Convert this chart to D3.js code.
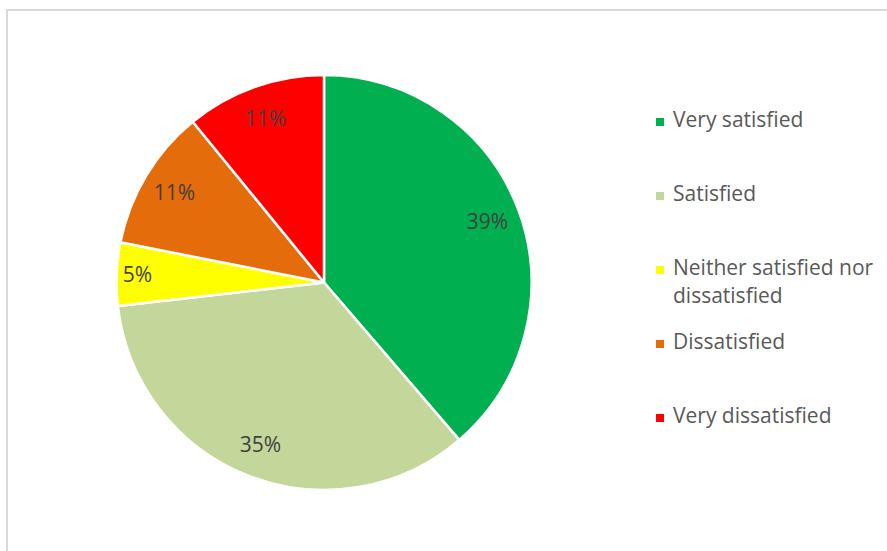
<!DOCTYPE html>
<html>
<head>
<meta charset="utf-8">
<script src="https://cdn.jsdelivr.net/npm/d3@7"></script>
<style>
  body { margin: 0; background: #fff; }
  text { font-family: "Open Sans", "Liberation Sans", sans-serif; }
</style>
</head>
<body>
<div id="chart"></div>
<script>
// data
var categories = ["Very satisfied", "Satisfied", "Neither satisfied nor dissatisfied", "Dissatisfied", "Very dissatisfied"];
var values = [38.7, 34.5, 4.9, 11.0, 10.9];
var labels = ["39%", "35%", "5%", "11%", "11%"];
var legendLines = [["Very satisfied"], ["Satisfied"], ["Neither satisfied nor", "dissatisfied"], ["Dissatisfied"], ["Very dissatisfied"]];
var colors = ["#00B050", "#C4D79B", "#FFFF00", "#E46C0A", "#FF0000"];

var width = 887, height = 551;
var cx = 324, cy = 282.5, radius = 207.5;

var svg = d3.select("#chart")
    .append("svg")
    .attr("width", width)
    .attr("height", height);

// chart area border
svg.append("rect")
    .attr("x", 7)
    .attr("y", 10)
    .attr("width", 900)
    .attr("height", 600)
    .attr("fill", "none")
    .attr("stroke", "#D9D9D9")
    .attr("stroke-width", 2);

var pie = d3.pie().sort(null).value(function(d) { return d; });
var arcs = pie(values);

var arc = d3.arc().innerRadius(0).outerRadius(radius);

var g = svg.append("g")
    .attr("transform", "translate(" + cx + "," + cy + ")");

g.selectAll("path.slice")
    .data(arcs)
    .enter().append("path")
    .attr("class", "slice")
    .attr("d", arc)
    .attr("fill", function(d, i) { return colors[i]; })
    .attr("stroke", "#fff")
    .attr("stroke-width", 2.5)
    .attr("stroke-linejoin", "round");

g.selectAll("text.label")
    .data(arcs)
    .enter().append("text")
    .attr("class", "label")
    .attr("transform", function(d) {
        var a = (d.startAngle + d.endAngle) / 2;
        var r = (d.endAngle - d.startAngle) < 0.5 ? radius * 0.9 : radius * 0.84;
        return "translate(" + (r * Math.sin(a)) + "," + (-r * Math.cos(a)) + ")";
    })
    .attr("text-anchor", "middle")
    .attr("dy", "0.35em")
    .attr("fill", "#404040")
    .style("font-size", "21px")
    .text(function(d, i) { return labels[i]; });

// legend
var legendY = d3.scalePoint().domain(categories).range([120, 416]);

var legend = svg.append("g").selectAll("g")
    .data(categories)
    .enter().append("g")
    .attr("transform", function(d) { return "translate(656," + legendY(d) + ")"; });

legend.append("rect")
    .attr("x", 0)
    .attr("y", -2)
    .attr("width", 8)
    .attr("height", 8)
    .attr("fill", function(d, i) { return colors[i]; });

legend.append("text")
    .attr("x", 17)
    .attr("y", 0)
    .attr("fill", "#595959")
    .style("font-size", "21px")
    .each(function(d, i) {
        var lines = legendLines[i];
        var t = d3.select(this);
        lines.forEach(function(line, k) {
            t.append("tspan")
                .attr("x", 17)
                .attr("y", k * 28)
                .attr("dy", "0.35em")
                .text(line);
        });
    });
</script>
</body>
</html>
